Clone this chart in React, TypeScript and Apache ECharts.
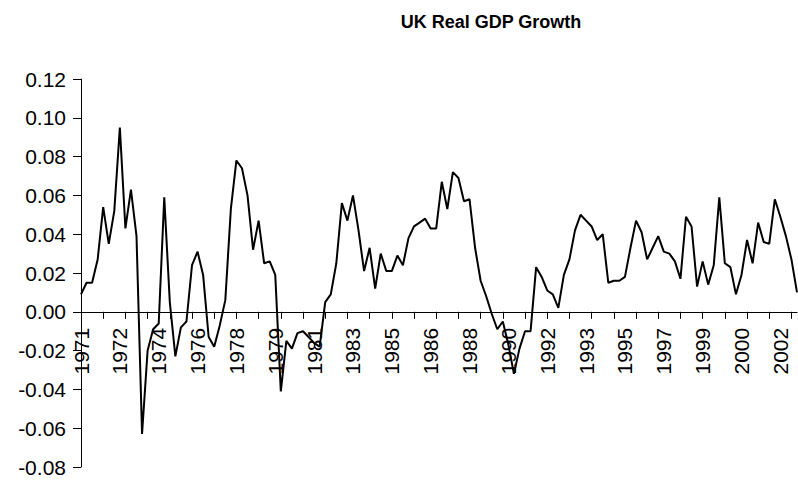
import React, { useEffect, useRef } from "react";
import * as echarts from "echarts";

const years = [
  "1971", "1972", "1973", "1974", "1975", "1976", "1977", "1978", "1979", "1980", "1981",
  "1982", "1983", "1984", "1985", "1986", "1987", "1988", "1989", "1990", "1991", "1992",
  "1993", "1994", "1995", "1996", "1997", "1998", "1999", "2000", "2001", "2002", "2003",
];
const quarters = ["Q1", "Q2", "Q3", "Q4"];
const quarterCount = 130;

const growth = [
  0.009, 0.015, 0.015, 0.027, 0.054, 0.035, 0.052, 0.095, 0.043, 0.063,
  0.039, -0.063, -0.020, -0.009, -0.006, 0.059, 0.005, -0.023, -0.008, -0.005,
  0.024, 0.031, 0.019, -0.013, -0.018, -0.007, 0.006, 0.053, 0.078, 0.074,
  0.060, 0.032, 0.047, 0.025, 0.026, 0.019, -0.041, -0.015, -0.019, -0.011,
  -0.010, -0.013, -0.016, -0.018, 0.005, 0.009, 0.025, 0.056, 0.047, 0.060,
  0.042, 0.021, 0.033, 0.012, 0.030, 0.021, 0.021, 0.029, 0.024, 0.038,
  0.044, 0.046, 0.048, 0.043, 0.043, 0.067, 0.053, 0.072, 0.069, 0.057,
  0.058, 0.033, 0.016, 0.008, -0.001, -0.009, -0.005, -0.017, -0.032, -0.019,
  -0.010, -0.010, 0.023, 0.018, 0.011, 0.009, 0.002, 0.019, 0.027, 0.042,
  0.050, 0.047, 0.044, 0.037, 0.040, 0.015, 0.016, 0.016, 0.018, 0.033,
  0.047, 0.041, 0.027, 0.033, 0.039, 0.031, 0.030, 0.026, 0.017, 0.049,
  0.044, 0.013, 0.026, 0.014, 0.024, 0.059, 0.025, 0.023, 0.009, 0.019,
  0.037, 0.025, 0.046, 0.036, 0.035, 0.058, 0.049, 0.039, 0.027, 0.010,
];

const yMin = -0.08;
const yMax = 0.12;
const yStep = 0.02;

const categories = years
  .flatMap((y) => quarters.map((q) => y + " " + q))
  .slice(0, quarterCount);

const GRID_TOP = 79;
const GRID_BOTTOM = 14;
const CHART_H = 481;

export default function App() {
  const ref = useRef<HTMLDivElement>(null);
  useEffect(() => {
    if (!ref.current) return;
    const chart = echarts.init(ref.current, null, { renderer: "svg" });
    const font = "'Liberation Sans', Arial, sans-serif";
    const gridH = CHART_H - GRID_TOP - GRID_BOTTOM;
    const zeroOffset = -(gridH * (0 - yMin)) / (yMax - yMin);
    chart.setOption({
      animation: false,
      backgroundColor: "#ffffff",
      title: {
        text: "UK Real GDP Growth",
        left: 486,
        top: 8,
        textAlign: "center",
        textStyle: { fontFamily: font, fontSize: 18, fontWeight: "bold", color: "#000" },
      },
      grid: {
        left: 81,
        right: 1,
        top: GRID_TOP,
        bottom: GRID_BOTTOM,
        containLabel: false,
        outerBoundsMode: "none",
      },
      xAxis: {
        type: "category",
        data: categories,
        boundaryGap: false,
        position: "bottom",
        offset: zeroOffset,
        axisLine: { show: true, onZero: false, lineStyle: { color: "#000", width: 1 } },
        axisTick: { show: true, interval: 3, length: 7, lineStyle: { color: "#000" } },
        axisLabel: {
          interval: 6,
          rotate: 90,
          margin: 16,
          fontFamily: font,
          fontSize: 21,
          color: "#000",
          formatter: (v: string) => v.split(" ")[0],
        },
        splitLine: { show: false },
      },
      yAxis: {
        type: "value",
        min: yMin,
        max: yMax,
        interval: yStep,
        axisLine: { show: true, lineStyle: { color: "#000", width: 1 } },
        axisTick: { show: true, length: 8, lineStyle: { color: "#000" } },
        axisLabel: {
          fontFamily: font,
          fontSize: 21,
          color: "#000",
          margin: 15,
          formatter: (v: number) => (Math.abs(v) < 1e-9 ? 0 : v).toFixed(2),
        },
        splitLine: { show: false },
      },
      series: [
        {
          type: "line",
          data: growth,
          showSymbol: false,
          symbol: "none",
          lineStyle: { color: "#000", width: 2 },
        },
      ],
    });
    return () => chart.dispose();
  }, []);
  return (
    <div
      ref={ref}
      style={{ position: "fixed", left: 0, top: 0, width: 798, height: 481, background: "#fff" }}
    />
  );
}
